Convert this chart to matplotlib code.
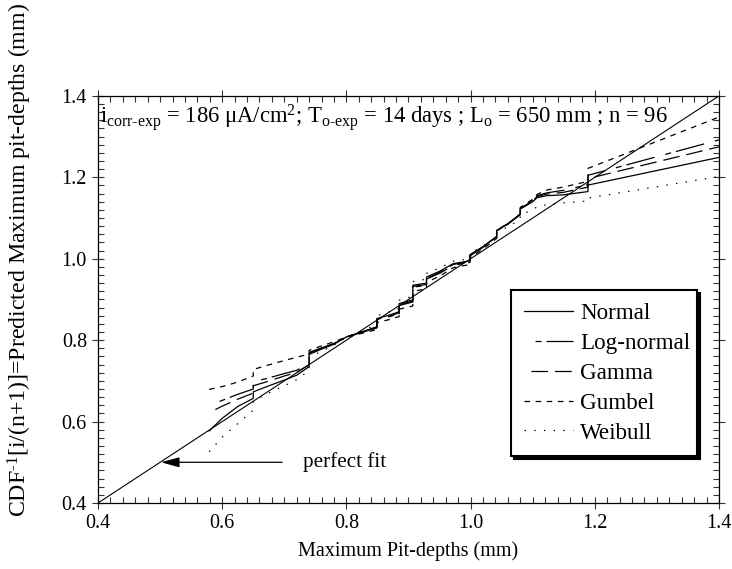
import numpy as np
import matplotlib
matplotlib.use('Agg')
import matplotlib.pyplot as plt
from matplotlib.ticker import MultipleLocator

plt.rcParams['font.family'] = ['Liberation Serif', 'DejaVu Serif']
plt.rcParams['mathtext.fontset'] = 'custom'
plt.rcParams['mathtext.rm'] = 'Liberation Serif'
plt.rcParams['mathtext.it'] = 'Liberation Serif:italic'
plt.rcParams['mathtext.bf'] = 'Liberation Serif:bold'
plt.rcParams['lines.scale_dashes'] = False

FS_TICK = 14.5
FS_BIG = 16.6

# observed maximum pit depths (sorted, ties give the vertical steps)
x_obs = [0.579, 0.600, 0.625, 0.650, 0.650, 0.672, 0.700, 0.720, 0.740, 0.740,
         0.760, 0.780, 0.800, 0.820, 0.849, 0.849, 0.870, 0.885, 0.885, 0.907,
         0.907, 0.929, 0.929, 0.951, 0.972, 0.999, 0.999, 1.020, 1.042, 1.042,
         1.060, 1.080, 1.080, 1.100, 1.107, 1.123, 1.149, 1.189, 1.189, 1.400]

# predicted quantiles CDF^-1[i/(n+1)] for each fitted distribution
y_normal = [0.577, 0.608, 0.637, 0.657, 0.673, 0.686, 0.702, 0.714, 0.735, 0.765,
            0.778, 0.790, 0.808, 0.818, 0.833, 0.853, 0.862, 0.870, 0.890, 0.899,
            0.935, 0.940, 0.955, 0.970, 0.988, 0.995, 1.010, 1.030, 1.055, 1.070,
            1.085, 1.108, 1.122, 1.140, 1.150, 1.155, 1.157, 1.165, 1.181, 1.249]
y_lognormal = [0.640, 0.652, 0.667, 0.680, 0.698, 0.706, 0.718, 0.726, 0.744, 0.770,
               0.781, 0.792, 0.808, 0.817, 0.830, 0.849, 0.858, 0.865, 0.885, 0.894,
               0.930, 0.935, 0.950, 0.965, 0.984, 0.991, 1.007, 1.028, 1.053, 1.070,
               1.086, 1.110, 1.125, 1.144, 1.155, 1.162, 1.168, 1.182, 1.205, 1.292]
y_gamma = [0.622, 0.638, 0.655, 0.670, 0.688, 0.698, 0.712, 0.721, 0.740, 0.768,
           0.780, 0.791, 0.808, 0.817, 0.831, 0.851, 0.860, 0.867, 0.887, 0.896,
           0.932, 0.937, 0.952, 0.967, 0.986, 0.993, 1.008, 1.029, 1.054, 1.070,
           1.086, 1.109, 1.124, 1.142, 1.153, 1.159, 1.163, 1.176, 1.197, 1.275]
y_gumbel = [0.679, 0.686, 0.697, 0.712, 0.728, 0.738, 0.750, 0.758, 0.766, 0.775,
            0.786, 0.796, 0.808, 0.815, 0.826, 0.843, 0.851, 0.858, 0.876, 0.884,
            0.920, 0.926, 0.942, 0.958, 0.978, 0.986, 1.002, 1.024, 1.050, 1.068,
            1.085, 1.110, 1.126, 1.146, 1.158, 1.169, 1.176, 1.190, 1.222, 1.348]
y_weibull = [0.526, 0.562, 0.595, 0.628, 0.650, 0.668, 0.688, 0.703, 0.726, 0.758,
             0.773, 0.788, 0.808, 0.820, 0.838, 0.860, 0.870, 0.878, 0.898, 0.908,
             0.944, 0.950, 0.964, 0.978, 0.994, 1.000, 1.014, 1.031, 1.053, 1.066,
             1.078, 1.097, 1.108, 1.120, 1.128, 1.133, 1.137, 1.142, 1.149, 1.202]

fit_x = [0.4, 1.4]
fit_y = [0.4, 1.4]

series = [
    ('Normal', y_normal, '-'),
    ('Log-normal', y_lognormal, (28.9, (4.3, 3.6, 21, 8))),
    ('Gamma', y_gamma, (12, (12, 5))),
    ('Gumbel', y_gumbel, (0, (4, 4))),
    ('Weibull', y_weibull, (0, (1, 6))),
]

fig = plt.figure(figsize=(7.32, 5.69), dpi=100)
ax = fig.add_axes([0.1339, 0.116, 0.8483, 0.7154])

ax.plot(fit_x, fit_y, color='k', lw=0.8)
for name, yv, ls in series:
    ax.plot(x_obs, yv, color='k', lw=0.9, linestyle=ls, label=name)

ax.annotate('', xy=(0.497, 0.5), xytext=(0.701, 0.5),
            arrowprops=dict(arrowstyle='-|>, head_length=0.8, head_width=0.22',
                            color='k', lw=0.9, mutation_scale=14))
ax.text(0.730, 0.5, 'perfect fit', fontsize=15.2, va='center', ha='left')

ax.text(0.004, 0.985,
        r'i$_{\text{corr-exp}}$ = 186 μA/cm$^{2}$; T$_{\text{o-exp}}$ = 14 days ; '
        r'L$_{\text{o}}$ = 650 mm ; n = 96',
        transform=ax.transAxes, fontsize=16.3, va='top', ha='left')

ax.set_xlim(0.4, 1.4)
ax.set_ylim(0.4, 1.4)
ax.xaxis.set_major_locator(MultipleLocator(0.2))
ax.yaxis.set_major_locator(MultipleLocator(0.2))
ax.xaxis.set_minor_locator(MultipleLocator(0.02))
ax.yaxis.set_minor_locator(MultipleLocator(0.02))
ax.xaxis.set_major_formatter(lambda v, p: f'{v:.1f}')
ax.yaxis.set_major_formatter(lambda v, p: f'{v:.1f}')
ax.tick_params(which='both', top=True, right=True, labelsize=FS_TICK, width=0.8, color='#333333')
ax.tick_params(which='major', direction='inout', length=9)
ax.tick_params(which='minor', direction='in', length=4.5)
for s in ax.spines.values():
    s.set_linewidth(0.9)

ax.set_xlabel('Maximum Pit-depths (mm)', fontsize=FS_TICK, labelpad=6)
ax.set_ylabel(r'CDF$^{\text{-1}}$[i/(n+1)]=Predicted Maximum pit-depths (mm)', fontsize=17.2)
ax.yaxis.set_label_coords(-0.103, 0.597)

leg = ax.legend(loc='upper left', bbox_to_anchor=(0.665, 0.0, 0.30, 0.523), mode='expand',
                borderaxespad=0, fontsize=FS_BIG, frameon=True, fancybox=False,
                shadow={'color': 'k', 'alpha': 1.0}, handlelength=2.15, handletextpad=0.3,
                labelspacing=0.38, borderpad=0.55)
leg.get_frame().set_edgecolor('k')
leg.get_frame().set_linewidth(1.5)
leg.get_frame().set_alpha(1.0)

fig.savefig('out.png', dpi=100)
